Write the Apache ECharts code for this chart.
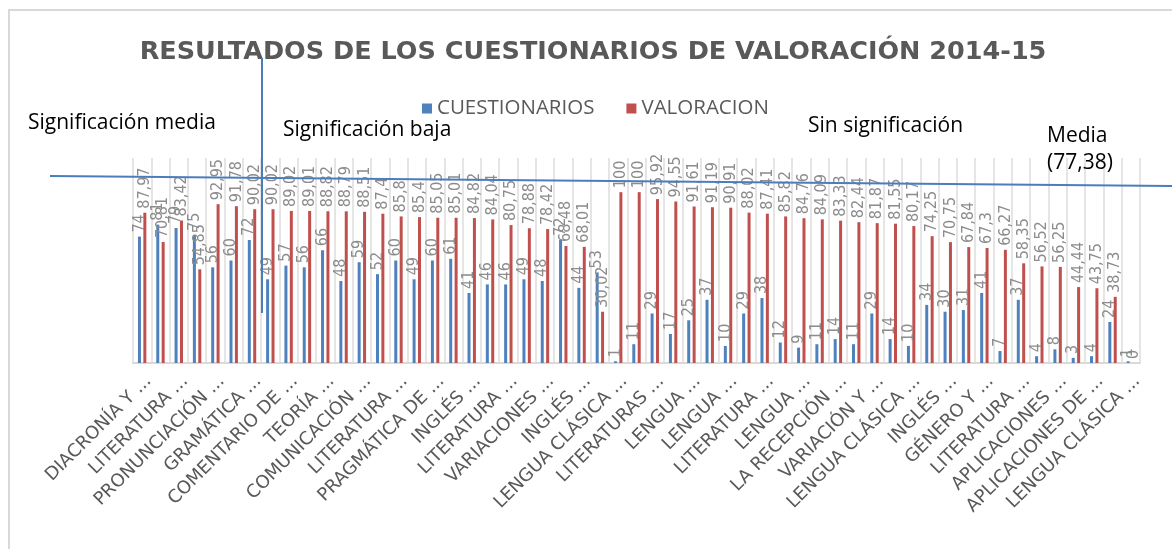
<!DOCTYPE html>
<html>
<head>
<meta charset="utf-8">
<script src="https://cdn.jsdelivr.net/npm/echarts@6/dist/echarts.min.js"></script>
<style>
  html, body { margin: 0; padding: 0; background: #fff; }
  #main { width: 1172px; height: 549px; }
</style>
</head>
<body>
<div id="main"></div>
<script>
// asignaturas (solo se ven una de cada dos etiquetas)
var asignaturas = [
  'DIACRONÍA Y ...', '', 'LITERATURA ...', '', 'PRONUNCIACIÓN ...', '',
  'GRAMÁTICA ...', '', 'COMENTARIO DE ...', '', 'TEORÍA ...', '',
  'COMUNICACIÓN ...', '', 'LITERATURA ...', '', 'PRAGMÁTICA DE ...', '',
  'INGLÉS ...', '', 'LITERATURA ...', '', 'VARIACIONES ...', '',
  'INGLÉS ...', '', 'LENGUA CLÁSICA ...', '', 'LITERATURAS ...', '',
  'LENGUA ...', '', 'LENGUA ...', '', 'LITERATURA ...', '',
  'LENGUA ...', '', 'LA RECEPCIÓN ...', '', 'VARIACIÓN Y ...', '',
  'LENGUA CLÁSICA ...', '', 'INGLÉS ...', '', 'GÉNERO Y ...', '',
  'LITERATURA ...', '', 'APLICACIONES ...', '', 'APLICACIONES DE ...', '',
  'LENGUA CLÁSICA ...'
]

var cuestionarios = [74, 81, 79, 75, 56, 60, 72, 49, 57, 56, 66, 48, 59, 52, 60,
  49, 60, 61, 41, 46, 46, 49, 48, 72, 44, 53, 1, 11, 29, 17, 25, 37, 10, 29, 38,
  12, 9, 11, 14, 11, 29, 14, 10, 34, 30, 31, 41, 7, 37, 4, 8, 3, 4, 24, 1]

var valoracion = [87.97, 70.81, 83.42, 54.85, 92.95, 91.78, 90.02, 90.02, 89.02,
  89.01, 88.82, 88.79, 88.51, 87.4, 85.8, 85.4, 85.05, 85.01, 84.82, 84.04, 80.75,
  78.88, 78.42, 68.48, 68.01, 30.02, 100, 100, 95.92, 94.55, 91.61, 91.19, 90.91,
  88.02, 87.41, 85.82, 84.76, 84.09, 83.33, 82.44, 81.87, 81.55, 80.17, 74.25,
  70.75, 67.84, 67.3, 66.27, 58.35, 56.52, 56.25, 44.44, 43.75, 38.73, 0]

var chart = echarts.init(document.getElementById('main'))

function coma(p) {
  return String(p.value).replace('.', ',')
}

var etiqueta = {
  show: true,
  position: 'top',
  rotate: 90,
  align: 'left',
  verticalAlign: 'middle',
  distance: 4,
  color: '#8c8c8c',
  fontSize: 16,
  fontFamily: "'Liberation Sans Narrow', 'DejaVu Sans Condensed', sans-serif",
  formatter: coma
}

var notas = { fill: '#000', fontSize: 21, fontFamily: "'Open Sans', sans-serif" }

chart.setOption({
  animation: false,
  title: {
    text: 'RESULTADOS DE LOS CUESTIONARIOS DE VALORACIÓN 2014-15',
    left: 588,
    textAlign: 'center',
    top: 34,
    textStyle: {
      color: '#595959',
      fontSize: 25.5,
      fontWeight: 'bold',
      fontFamily: "'DejaVu Sans', sans-serif"
    }
  },
  legend: {
    top: 93,
    left: 417,
    itemWidth: 10,
    itemHeight: 10,
    itemGap: 32,
    icon: 'rect',
    textStyle: { color: '#595959', fontSize: 20.5, fontFamily: "'Open Sans', sans-serif" }
  },
  grid: { left: 133, right: 32, top: 158, bottom: 186 },
  xAxis: {
    type: 'category',
    data: asignaturas,
    axisTick: { show: false },
    axisLine: { lineStyle: { color: '#d9d9d9', width: 2 } },
    splitLine: { show: true, lineStyle: { color: '#dcdcdc', width: 1.5 } },
    axisLabel: {
      interval: 0,
      rotate: 45,
      margin: 9,
      verticalAlign: 'top',
      color: '#595959',
      fontSize: 18,
      fontFamily: "'DejaVu Sans', sans-serif"
    }
  },
  yAxis: {
    type: 'value',
    min: 0,
    max: 120,
    show: false,
    splitLine: { show: false }
  },
  series: [
    {
      name: 'CUESTIONARIOS',
      type: 'bar',
      data: cuestionarios,
      barWidth: 3,
      barGap: '80%',
      itemStyle: { color: '#4f81bd' },
      label: etiqueta
    },
    {
      name: 'VALORACION',
      type: 'bar',
      data: valoracion,
      barWidth: 3,
      itemStyle: { color: '#c0504d' },
      label: etiqueta
    }
  ],
  graphic: [
    { type: 'rect', shape: { x: 9, y: 10, width: 1300, height: 700 }, style: { fill: 'none', stroke: '#d9d9d9', lineWidth: 2 }, z: -1 },
    { type: 'line', shape: { x1: 50, y1: 176, x2: 1172, y2: 186 }, style: { stroke: '#4a7ebb', lineWidth: 2 }, z: 100 },
    { type: 'line', shape: { x1: 262, y1: 58, x2: 262, y2: 313 }, style: { stroke: '#4a7ebb', lineWidth: 2 }, z: 100 },
    { type: 'text', left: 28, top: 113, style: Object.assign({ text: 'Significación media' }, notas), z: 100 },
    { type: 'text', left: 283, top: 120, style: Object.assign({ text: 'Significación baja' }, notas), z: 100 },
    { type: 'text', left: 808, top: 116, style: Object.assign({ text: 'Sin significación' }, notas), z: 100 },
    { type: 'text', left: 1047, top: 123, style: Object.assign({ text: 'Media\n(77,38)', lineHeight: 27 }, notas), z: 100 }
  ]
})
</script>
</body>
</html>
